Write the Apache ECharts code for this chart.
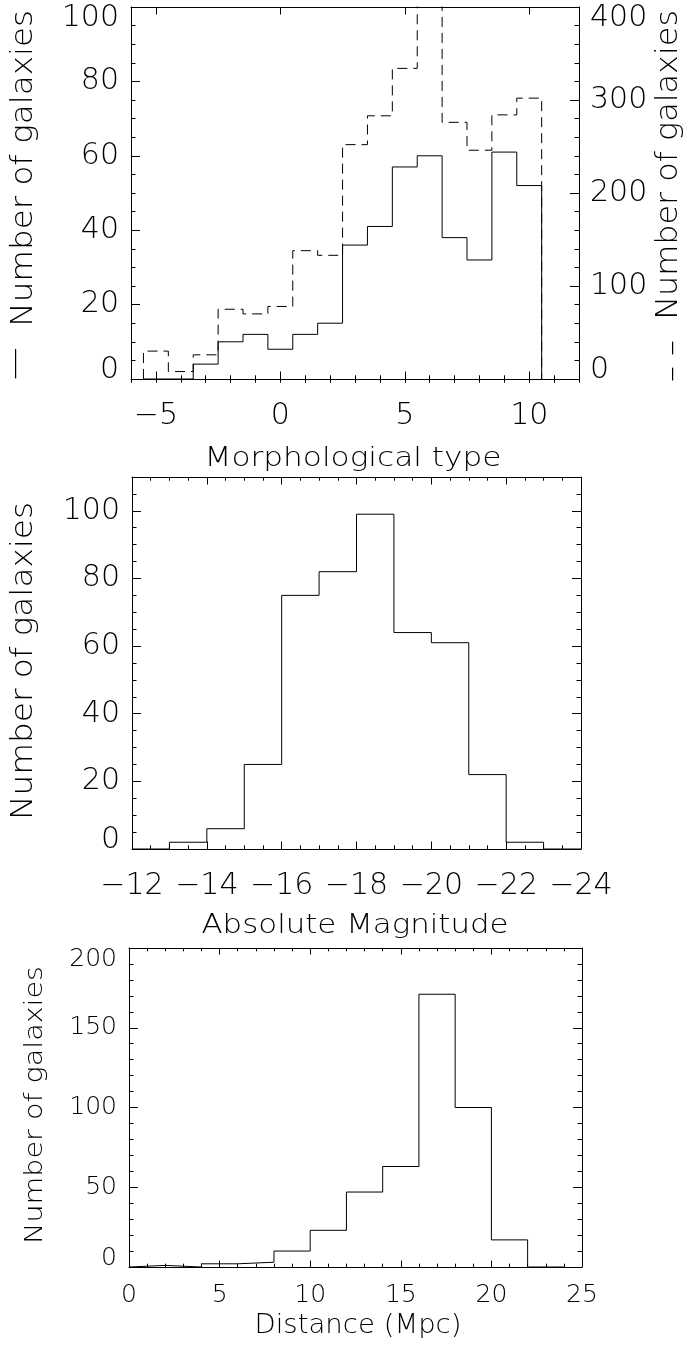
<!DOCTYPE html>
<html>
<head>
<meta charset="utf-8">
<script src="https://cdn.jsdelivr.net/npm/echarts@6/dist/echarts.min.js"></script>
<style>
  html, body { margin: 0; padding: 0; background: #fff; }
  #chart { width: 689px; height: 1353px; }
</style>
</head>
<body>
<div id="chart"></div>
<script>
// ---- data -------------------------------------------------------------
// Morphological type: solid histogram (left axis) and dashed histogram (right axis)
const morphType        = [-5, -4, -3, -2, -1, 0, 1, 2, 3, 4, 5, 6, 7, 8, 9, 10];
const morphCountSolid  = [0, 0, 4, 10, 12, 8, 12, 15, 36, 41, 57, 60, 38, 32, 61, 52];
const morphCountDashed = [30, 8, 26, 75, 70, 78, 138, 133, 252, 283, 334, 415, 276, 246, 284, 302];
const morphTicks       = [-5, 0, 5, 10];

// Absolute magnitude histogram (1 mag bins, centres)
const absMag      = [-12.5, -13.5, -14.5, -15.5, -16.5, -17.5, -18.5, -19.5, -20.5, -21.5, -22.5, -23.5];
const absMagCount = [0, 2, 6, 25, 75, 82, 99, 64, 61, 22, 2, 0];

// Distance histogram (2 Mpc bins, centres)
const distance      = [1, 3, 5, 7, 9, 11, 13, 15, 17, 19, 21, 23];
const distanceCount = [1, 0, 2, 3, 10, 23, 47, 63, 171, 100, 17, 0];

// ---- helpers ----------------------------------------------------------
const FONT = '"DejaVu Sans", "Liberation Sans", sans-serif';
const WEIGHT = 200;
const INK = '#000';

// histogram outline: rises from zero, flat top per bin, falls back to zero
function stepPath(centres, counts) {
  const w = centres[1] - centres[0];
  const pts = [[centres[0] - w / 2, 0]];
  centres.forEach((c, i) => {
    pts.push([c - w / 2, counts[i]], [c + w / 2, counts[i]]);
  });
  pts.push([centres[centres.length - 1] + w / 2, 0]);
  return pts;
}

const minus = v => String(v).replace('-', '\u2212');

function fontOf(size) {
  return { fontFamily: FONT, fontSize: size, fontWeight: WEIGHT, color: INK };
}

// y labels: end labels are nudged inward so they stay inside the frame
function yLabel(min, max, size, margin) {
  const f = fontOf(size);
  return Object.assign({}, f, {
    show: true,
    margin: margin,
    formatter: v => v === min ? '{lo|' + v + '}' : (v === max ? '{hi|' + v + '}' : '{n|' + v + '}'),
    rich: {
      n: f,
      lo: Object.assign({ padding: [0, 0, 18, 0] }, f),
      hi: Object.assign({ padding: [22, 0, 0, 0] }, f)
    }
  });
}

function line() { return { show: true, onZero: false, lineStyle: { color: INK, width: 1 } }; }
function tick(len, custom) {
  const t = { show: true, inside: true, length: len, lineStyle: { color: INK, width: 1 } };
  if (custom) t.customValues = custom;
  return t;
}
function minor(n, len) {
  return { show: true, splitNumber: n, length: len, lineStyle: { color: INK, width: 1 } };
}
const noLabel = { show: false };
const noSplit = { show: false };

// ---- axes -------------------------------------------------------------
const xAxis = [
  // panel 1
  { gridIndex: 0, type: 'value', position: 'bottom', min: -6, max: 12,
    axisLine: line(), axisTick: tick(7.5, morphTicks), splitLine: noSplit,
    axisLabel: Object.assign(fontOf(30), { show: true, customValues: morphTicks, formatter: minus,
      verticalAlign: 'middle', margin: 37 }) },
  { gridIndex: 0, type: 'value', position: 'bottom', min: -6, max: 12, interval: 1,
    axisLine: { show: false }, axisTick: tick(3.7), splitLine: noSplit, axisLabel: noLabel },
  { gridIndex: 0, type: 'value', position: 'top', min: -6, max: 12,
    axisLine: line(), axisTick: tick(7.5, morphTicks), splitLine: noSplit, axisLabel: noLabel },
  { gridIndex: 0, type: 'value', position: 'top', min: -6, max: 12, interval: 1,
    axisLine: { show: false }, axisTick: tick(3.7), splitLine: noSplit, axisLabel: noLabel },
  // panel 2 (brighter magnitudes to the right)
  { gridIndex: 1, type: 'value', position: 'bottom', min: -24, max: -12, interval: 2, inverse: true,
    axisLine: line(), axisTick: tick(7.5), minorTick: minor(4, 3.7), splitLine: noSplit,
    axisLabel: Object.assign(fontOf(30), { show: true, formatter: minus,
      verticalAlign: 'middle', margin: 37 }) },
  { gridIndex: 1, type: 'value', position: 'top', min: -24, max: -12, interval: 2, inverse: true,
    axisLine: line(), axisTick: tick(7.5), minorTick: minor(4, 3.7), splitLine: noSplit, axisLabel: noLabel },
  // panel 3
  { gridIndex: 2, type: 'value', position: 'bottom', min: 0, max: 25, interval: 5,
    axisLine: line(), axisTick: tick(6.5), minorTick: minor(5, 3.3), splitLine: noSplit,
    axisLabel: Object.assign(fontOf(25), { show: true, verticalAlign: 'middle', margin: 28 }) },
  { gridIndex: 2, type: 'value', position: 'top', min: 0, max: 25, interval: 5,
    axisLine: line(), axisTick: tick(6.5), minorTick: minor(5, 3.3), splitLine: noSplit, axisLabel: noLabel }
];

const yAxis = [
  // panel 1
  { gridIndex: 0, type: 'value', position: 'left', min: 0, max: 100, interval: 20,
    axisLine: line(), axisTick: tick(9), minorTick: minor(4, 4.5), splitLine: noSplit,
    axisLabel: yLabel(0, 100, 30, 12) },
  { gridIndex: 0, type: 'value', position: 'right', min: 0, max: 400, interval: 100,
    axisLine: line(), axisTick: tick(9), minorTick: minor(5, 4.5), splitLine: noSplit,
    axisLabel: yLabel(0, 400, 30, 11) },
  // panel 2
  { gridIndex: 1, type: 'value', position: 'left', min: 0, max: 110, interval: 20,
    axisLine: line(), axisTick: tick(9), minorTick: minor(4, 4.5), splitLine: noSplit,
    axisLabel: Object.assign(yLabel(0, 110, 30, 12), { showMaxLabel: false }) },
  { gridIndex: 1, type: 'value', position: 'right', min: 0, max: 110, interval: 20,
    axisLine: line(), axisTick: tick(9), minorTick: minor(4, 4.5), splitLine: noSplit, axisLabel: noLabel },
  // panel 3
  { gridIndex: 2, type: 'value', position: 'left', min: 0, max: 200, interval: 50,
    axisLine: line(), axisTick: tick(9), minorTick: minor(5, 4.5), splitLine: noSplit,
    axisLabel: yLabel(0, 200, 25, 12) },
  { gridIndex: 2, type: 'value', position: 'right', min: 0, max: 200, interval: 50,
    axisLine: line(), axisTick: tick(9), minorTick: minor(5, 4.5), splitLine: noSplit, axisLabel: noLabel }
];

// ---- axis titles (stretched to the plot's lettering width) -----------
const measureCtx = document.createElement('canvas').getContext('2d');
function textWidth(str, size) {
  measureCtx.font = WEIGHT + ' ' + size + 'px ' + FONT;
  return measureCtx.measureText(str).width;
}
function title(plain, rich, size, x, y, span, vertical, richStyles) {
  const font = WEIGHT + ' ' + size + 'px ' + FONT;
  return {
    type: 'text', x: x, y: y,
    rotation: vertical ? Math.PI / 2 : 0,
    scaleX: span / textWidth(plain, size),
    silent: true,
    style: {
      text: rich, font: font, fill: INK,
      align: 'center', verticalAlign: 'middle',
      rich: richStyles || {}
    }
  };
}
const barFont = WEIGHT + ' 30px ' + FONT;
const graphic = [
  title('\u2014  Number of galaxies', '{bar|\u2014}  Number of galaxies', 30, 24, 195, 370, true,
        { bar: { font: barFont, fill: INK, padding: [0, 0, 16, 0] } }),
  title('\u2013 \u2013  Number of galaxies', '{dash|\u2013 \u2013}  Number of galaxies', 30, 669, 196, 372, true,
        { dash: { font: barFont, fill: INK, padding: [8, 0, 0, 0] } }),
  title('Morphological type', 'Morphological type', 26, 353, 459, 297, false),
  title('Number of galaxies', 'Number of galaxies', 30, 24, 661, 318, true),
  title('Absolute Magnitude', 'Absolute Magnitude', 26, 355, 926, 307, false),
  title('Number of galaxies', 'Number of galaxies', 25, 35, 1105, 278, true),
  title('Distance (Mpc)', 'Distance (Mpc)', 26, 358, 1326, 207, false)
];

// ---- series -----------------------------------------------------------
function histSeries(data, xi, yi, dashed) {
  return {
    type: 'line', xAxisIndex: xi, yAxisIndex: yi, data: data,
    showSymbol: false, symbol: 'none', silent: true, animation: false, clip: true,
    lineStyle: { color: INK, width: 1, type: dashed ? [10, 6] : 'solid' }
  };
}

const chart = echarts.init(document.getElementById('chart'), null, { renderer: 'canvas' });
chart.setOption({
  animation: false,
  backgroundColor: '#fff',
  grid: [
    { left: 131, top: 7, width: 448, height: 372, containLabel: false, outerBoundsMode: 'none' },
    { left: 132, top: 477, width: 449, height: 372, containLabel: false, outerBoundsMode: 'none' },
    { left: 129, top: 948, width: 453, height: 319, containLabel: false, outerBoundsMode: 'none' }
  ],
  xAxis: xAxis,
  yAxis: yAxis,
  graphic: graphic,
  series: [
    histSeries(stepPath(morphType, morphCountSolid), 0, 0, false),
    histSeries(stepPath(morphType, morphCountDashed), 0, 1, true),
    histSeries(stepPath(absMag, absMagCount), 4, 2, false),
    histSeries(stepPath(distance, distanceCount), 6, 4, false)
  ]
});
</script>
</body>
</html>
